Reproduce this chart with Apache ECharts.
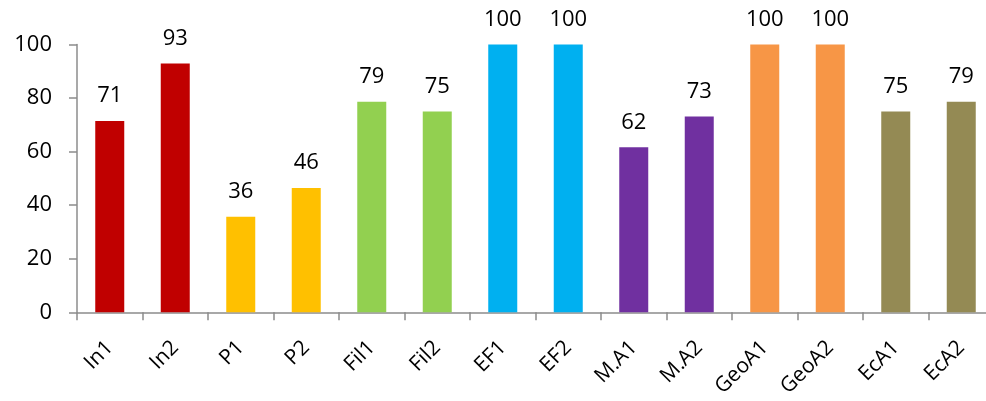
<!DOCTYPE html>
<html><head><meta charset="utf-8">
<script src="https://cdn.jsdelivr.net/npm/echarts@6/dist/echarts.min.js"></script>
<style>html,body{margin:0;padding:0;background:#fff}#c{width:986px;height:401px}</style>
</head><body><div id="c"></div>
<script>
var categories = ['In1','In2','P1','P2','Fil1','Fil2','EF1','EF2','M.A1','M.A2','GeoA1','GeoA2','EcA1','EcA2'];
var values = [71.4, 92.9, 35.7, 46.4, 78.6, 75.0, 100, 100, 61.6, 73.1, 100, 100, 75.0, 78.6];
var colors = ['#C00000','#C00000','#FFC000','#FFC000','#92D050','#92D050','#00B0F0','#00B0F0','#7030A0','#7030A0','#F79646','#F79646','#948A54','#948A54'];
var yTicks = [0, 20, 40, 60, 80, 100];

var chart = echarts.init(document.getElementById('c'));
var font = 'Open Sans';
chart.setOption({
  animation: false,
  grid: {left: 77, right: -8, top: 44.5, bottom: 88.7, containLabel: false, outerBoundsMode: 'none'},
  xAxis: {
    type: 'category', data: categories,
    axisLine: {lineStyle: {color: '#8c8c8c', width: 1.5}},
    axisTick: {show: true, length: 8, lineStyle: {color: '#8c8c8c', width: 1.5}},
    axisLabel: {rotate: 45, color: '#000', fontFamily: font, fontSize: 21, margin: 32}
  },
  yAxis: {
    type: 'value', min: yTicks[0], max: yTicks[yTicks.length-1], interval: 20,
    splitLine: {show: false},
    axisLine: {show: true, lineStyle: {color: '#8c8c8c', width: 1.5}},
    axisTick: {show: true, length: 8, lineStyle: {color: '#8c8c8c', width: 1.5}},
    axisLabel: {color: '#000', fontFamily: font, fontSize: 22, margin: 25}
  },
  series: [{
    type: 'bar', barWidth: 29,
    data: values.map(function(v, i){ return {value: v, itemStyle: {color: colors[i]}}; }),
    label: {show: true, position: 'top', distance: 14, color: '#000', fontFamily: font, fontSize: 22,
      formatter: function(p){ return Math.round(p.value); }}
  }]
});
</script></body></html>
